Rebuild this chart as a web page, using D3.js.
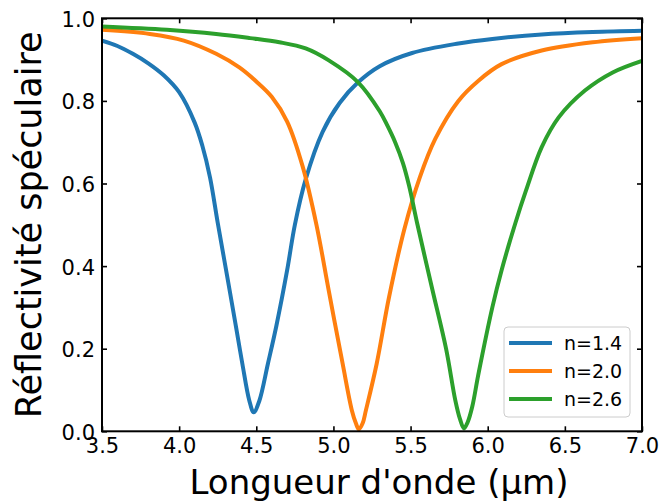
<!DOCTYPE html>
<html>
<head>
<meta charset="utf-8">
<script src="https://cdnjs.cloudflare.com/ajax/libs/d3/7.8.5/d3.min.js"></script>
<style>
  html, body { margin: 0; padding: 0; background: #fff; }
  svg { display: block; font-family: "DejaVu Sans", sans-serif; }
</style>
</head>
<body>
<div id="chart"></div>
<script>
// ---- data ----
const seriesNames = ["n=1.4", "n=2.0", "n=2.6"];
const seriesColors = ["#1f77b4", "#ff7f0e", "#2ca02c"];

const blueX = [3.50, 3.60, 3.70, 3.80, 3.90, 4.00, 4.10, 4.15, 4.20, 4.25, 4.31, 4.37, 4.41, 4.455, 4.483, 4.52, 4.575, 4.63, 4.70, 4.75, 4.82, 4.93, 5.04, 5.16, 5.30, 5.51, 5.81, 6.03, 6.35, 6.68, 7.00];
const blueY = [0.946, 0.933, 0.914, 0.891, 0.862, 0.821, 0.748, 0.692, 0.615, 0.505, 0.378, 0.250, 0.163, 0.074, 0.046, 0.074, 0.163, 0.255, 0.390, 0.50, 0.610, 0.725, 0.795, 0.845, 0.884, 0.916, 0.939, 0.950, 0.961, 0.967, 0.970];

const orangeX = [3.50, 3.81, 4.03, 4.24, 4.39, 4.50, 4.60, 4.70, 4.80, 4.89, 4.97, 5.06, 5.12, 5.145, 5.165, 5.19, 5.21, 5.28, 5.36, 5.46, 5.56, 5.66, 5.81, 5.94, 6.09, 6.35, 6.68, 7.00];
const orangeY = [0.972, 0.962, 0.946, 0.914, 0.881, 0.847, 0.810, 0.750, 0.642, 0.50, 0.34, 0.163, 0.05, 0.02, 0.005, 0.02, 0.05, 0.163, 0.324, 0.49, 0.615, 0.708, 0.800, 0.849, 0.889, 0.922, 0.942, 0.952];

const greenX = [3.50, 3.92, 4.24, 4.46, 4.65, 4.82, 4.97, 5.16, 5.30, 5.35, 5.40, 5.45, 5.49, 5.545, 5.64, 5.73, 5.79, 5.82, 5.846, 5.87, 5.90, 5.94, 6.03, 6.09, 6.18, 6.25, 6.35, 6.46, 6.63, 6.81, 7.00];
const greenY = [0.980, 0.972, 0.962, 0.952, 0.942, 0.927, 0.898, 0.845, 0.775, 0.740, 0.700, 0.650, 0.595, 0.500, 0.345, 0.200, 0.075, 0.03, 0.007, 0.022, 0.06, 0.139, 0.300, 0.39, 0.505, 0.585, 0.688, 0.760, 0.825, 0.869, 0.897];

const xTicks = [3.5, 4.0, 4.5, 5.0, 5.5, 6.0, 6.5, 7.0];
const yTicks = [0.0, 0.2, 0.4, 0.6, 0.8, 1.0];
const xLabel = "Longueur d'onde (µm)";
const yLabel = "Réflectivité spéculaire";

// ---- layout ----
const W = 662, H = 502;
const L = 102, R = 642, T = 18.3, B = 431.3;

const svg = d3.select("#chart").append("svg").attr("width", W).attr("height", H);

const x = d3.scaleLinear().domain([3.5, 7.0]).range([L, R]);
const y = d3.scaleLinear().domain([0, 1]).range([B, T]);

const series = [
  { name: seriesNames[0], color: seriesColors[0], xs: blueX, ys: blueY },
  { name: seriesNames[1], color: seriesColors[1], xs: orangeX, ys: orangeY },
  { name: seriesNames[2], color: seriesColors[2], xs: greenX, ys: greenY }
];

svg.append("clipPath").attr("id", "clip")
  .append("rect").attr("x", L).attr("y", T).attr("width", R - L).attr("height", B - T);

const line = d3.line().x(d => x(d[0])).y(d => y(d[1])).curve(d3.curveCatmullRom.alpha(0.5));

svg.append("g").attr("clip-path", "url(#clip)")
  .selectAll("path").data(series).join("path")
  .attr("d", s => line(s.xs.map((v, i) => [v, s.ys[i]])))
  .attr("fill", "none")
  .attr("stroke", s => s.color)
  .attr("stroke-width", 4)
  .attr("stroke-linejoin", "round")
  .attr("stroke-linecap", "butt");

// ---- axes (ticks inward on all sides) ----
const tickLen = 5;
const fmt = d3.format(".1f");

const axB = svg.append("g").attr("transform", `translate(0,${B})`)
  .call(d3.axisBottom(x).tickValues(xTicks).tickFormat(fmt).tickSize(-tickLen).tickPadding(7));
const axT = svg.append("g").attr("transform", `translate(0,${T})`)
  .call(d3.axisTop(x).tickValues(xTicks).tickFormat("").tickSize(-tickLen));
const axL = svg.append("g").attr("transform", `translate(${L},0)`)
  .call(d3.axisLeft(y).tickValues(yTicks).tickFormat(fmt).tickSize(-tickLen).tickPadding(7));
const axR = svg.append("g").attr("transform", `translate(${R},0)`)
  .call(d3.axisRight(y).tickValues(yTicks).tickFormat("").tickSize(-tickLen));

[axB, axT, axL, axR].forEach(a => {
  a.select(".domain").remove();
  a.selectAll(".tick line").attr("stroke", "#000").attr("stroke-width", 1.6);
  a.selectAll("text").attr("fill", "#000").style("font-family", "'DejaVu Sans', sans-serif").style("font-size", "21px");
});
axB.selectAll("text").attr("dy", null).attr("y", 0).attr("transform", "translate(0,21.5)");
axL.selectAll("text").attr("dy", null).attr("transform", "translate(0,8)");

// frame
svg.append("rect").attr("x", L).attr("y", T).attr("width", R - L).attr("height", B - T)
  .attr("fill", "none").attr("stroke", "#000").attr("stroke-width", 2);

// ---- axis labels ----
svg.append("text").attr("x", 379).attr("y", 494)
  .attr("text-anchor", "middle").style("font-size", "34px").attr("fill", "#000")
  .text(xLabel);
svg.append("text").attr("transform", `translate(41,${(T + B) / 2}) rotate(-90)`)
  .attr("text-anchor", "middle").style("font-size", "35px").attr("fill", "#000")
  .text(yLabel);

// ---- legend ----
const lg = svg.append("g");
lg.append("rect").attr("x", 504).attr("y", 327).attr("width", 126).attr("height", 90)
  .attr("rx", 4).attr("fill", "#fff").attr("fill-opacity", 0.8)
  .attr("stroke", "#cccccc").attr("stroke-width", 1);
series.forEach((s, i) => {
  const yy = 343 + i * 28;
  lg.append("line").attr("x1", 509).attr("x2", 552).attr("y1", yy).attr("y2", yy)
    .attr("stroke", s.color).attr("stroke-width", 4);
  lg.append("text").attr("x", 564).attr("y", yy + 7).style("font-size", "19px").attr("fill", "#000")
    .text(s.name);
});
</script>
</body>
</html>
